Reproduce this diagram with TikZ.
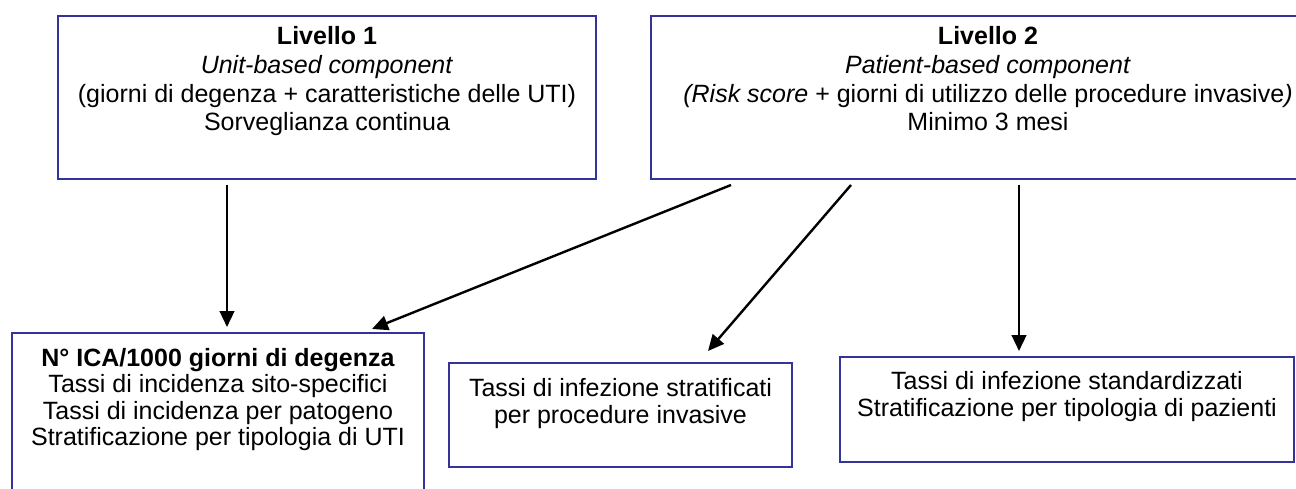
\documentclass[tikz,border=0pt]{standalone}
\usepackage{fontspec}
\setmainfont{Liberation Sans}
\usetikzlibrary{arrows.meta,calc}
\newdimen\px \px=0.75pt
\definecolor{boxblue}{RGB}{51,51,153}
\tikzset{
  box/.style={draw=boxblue, line width=1.5pt, rectangle, inner sep=0pt, anchor=north west},
  arr/.style={line width=1.8pt, -{Triangle[length=12pt,width=11pt]}},
}
\newcommand{\btext}[5]{\parbox[c][#2\px][t]{#1\px}{\centering\fontsize{18.75pt}{#3\px}\selectfont\rule{0pt}{#4\px}#5\par}}
\begin{document}
\begin{tikzpicture}[x=0.75pt,y=-0.75pt]
\useasboundingbox (0,0) rectangle (1296,489);
\clip (0,0) rectangle (1296,489);
\node[box] (l1) at (57,15) {\btext{538}{163}{29}{28}{\textbf{Livello 1}\\\textit{Unit-based component}\\(giorni di degenza + caratteristiche delle UTI)\\Sorveglianza continua}};
\node[box] (l2) at (650,15) {\btext{674}{163}{29}{28}{\textbf{Livello 2}\\\textit{Patient-based component}\\\textit{(Risk score} + giorni di utilizzo delle procedure invasive\textit{)}\\Minimo 3 mesi}};
\node[box] (ra) at (11,332) {\btext{412}{170}{26.5}{33}{\textbf{N° ICA/1000 giorni di degenza}\\Tassi di incidenza sito-specifici\\Tassi di incidenza per patogeno\\Stratificazione per tipologia di UTI}};
\node[box] (rb) at (448,362) {\btext{343}{104}{27}{33}{Tassi di infezione stratificati\\per procedure invasive}};
\node[box] (rc) at (839,356) {\btext{454}{105}{27}{32}{Tassi di infezione standardizzati\\Stratificazione per tipologia di pazienti}};
\draw[arr] ($(l1.south west)+(170,5)$) -- ($(ra.north west)+(216,-5)$);
\draw[arr] ($(l2.south west)+(81,5)$) -- ($(ra.north west)+(361,-3)$);
\draw[arr] ($(l2.south west)+(201,5)$) -- ($(rb.north west)+(260,-11)$);
\draw[arr] ($(l2.south west)+(369,5)$) -- ($(rc.north west)+(180,-5)$);
\end{tikzpicture}
\end{document}
